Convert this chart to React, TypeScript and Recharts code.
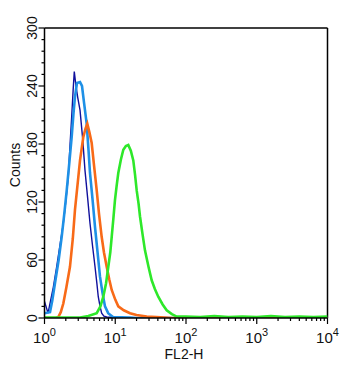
import { Label, Line, LineChart, ReferenceLine, XAxis, YAxis } from "recharts";

// histogram outlines: [log10(FL2-H), counts]
const navy: number[][] = [
  [0, 17], [0.05, 5], [0.078, 15], [0.125, 32], [0.172, 53], [0.22, 76], [0.266, 98],
  [0.3, 120], [0.336, 146], [0.36, 178], [0.384, 208], [0.405, 236], [0.421, 255],
  [0.445, 240], [0.47, 228], [0.502, 215], [0.54, 185], [0.572, 153], [0.61, 124],
  [0.643, 98], [0.68, 74], [0.714, 53], [0.74, 36], [0.76, 22], [0.785, 12], [0.808, 5],
  [0.84, 2], [0.879, 1], [1.07, 0], [4, 0],
];
const lightBlue: number[][] = [
  [0, 5], [0.078, 6], [0.11, 18], [0.148, 36], [0.2, 60], [0.243, 84], [0.28, 108],
  [0.314, 132], [0.35, 160], [0.384, 187], [0.41, 212], [0.431, 229], [0.459, 243],
  [0.502, 244], [0.53, 240], [0.56, 222], [0.596, 201], [0.62, 176], [0.643, 150],
  [0.68, 122], [0.714, 94], [0.75, 68], [0.784, 43], [0.82, 26], [0.855, 12], [0.9, 5],
  [0.968, 1], [1.21, 0.5], [1.3, 0], [4, 0],
];
const orange: number[][] = [
  [0, 0], [0.16, 0], [0.195, 1], [0.23, 6], [0.266, 15], [0.31, 32], [0.36, 53],
  [0.4, 82], [0.431, 112], [0.47, 140], [0.502, 163], [0.548, 187], [0.58, 196],
  [0.605, 201], [0.635, 192], [0.667, 181], [0.7, 158], [0.738, 132], [0.77, 108],
  [0.808, 84], [0.84, 68], [0.879, 53], [0.915, 40], [0.95, 29], [1.0, 19], [1.043, 12],
  [1.12, 8], [1.209, 5], [1.3, 3], [1.445, 1.5], [1.58, 1], [1.7, 0.5], [1.8, 0], [4, 0],
];
const green: number[][] = [
  [0, 0.5], [0.3, 0.5], [0.502, 0.5], [0.62, 2], [0.738, 5], [0.79, 12], [0.831, 22],
  [0.87, 36], [0.902, 53], [0.93, 68], [0.95, 84], [0.975, 104], [0.996, 122],
  [1.02, 137], [1.043, 150], [1.08, 164], [1.114, 174], [1.15, 178], [1.184, 179],
  [1.22, 173], [1.255, 163], [1.28, 148], [1.303, 132], [1.33, 118], [1.35, 105],
  [1.385, 87], [1.42, 70], [1.47, 53], [1.515, 39], [1.56, 30], [1.608, 22], [1.67, 14],
  [1.727, 8], [1.8, 4], [1.869, 1.5], [2.0, 1.5], [2.2, 1], [2.4, 2], [2.6, 1],
  [2.8, 1.5], [3.0, 1], [3.2, 2], [3.4, 1], [3.6, 1.5], [3.8, 1], [4, 1.5],
];

const xMajor = [0, 1, 2, 3, 4];
const xTicks: number[] = [];
xMajor.slice(0, 4).forEach((d) => {
  xTicks.push(d);
  [2, 3, 4, 5, 6, 7, 8, 9].forEach((k) => xTicks.push(d + Math.log10(k)));
});
xTicks.push(4);

const yTicks = Array.from({ length: 26 }, (_, i) => i * 12);

const font = "'Liberation Sans', Arial, sans-serif";

const toRows = (pts: number[][]) => pts.map(([x, c]) => ({ x, c }));

function XTick({ x, y, payload }: any) {
  const v = payload.value;
  const major = Math.abs(v - Math.round(v)) < 1e-6;
  return (
    <g>
      <line x1={x} x2={x} y1={y} y2={y + (major ? 6 : 3)} stroke="#000" strokeWidth={1.2} />
      {major && (
        <text x={x} y={y + 25} textAnchor="middle" fontSize={15} fontFamily={font} fill="#111">
          10
          <tspan dy={-7} fontSize={11}>
            {Math.round(v)}
          </tspan>
        </text>
      )}
    </g>
  );
}

function YTick({ x, y, payload }: any) {
  const v = payload.value;
  const major = v % 60 === 0;
  return (
    <g>
      <line x1={x} x2={x - (major ? 6 : 3)} y1={y} y2={y} stroke="#000" strokeWidth={1.2} />
      {major && (
        <text
          transform={`translate(${x - 8},${y}) rotate(-90)`}
          textAnchor="middle"
          fontSize={14}
          fontFamily={font}
          fill="#111"
        >
          {v}
        </text>
      )}
    </g>
  );
}

export default function App() {
  return (
    <div style={{ width: 333, height: 358 }}>
      <LineChart width={333} height={358} margin={{ top: 20, right: 13.5, bottom: 6, left: 6.5 }}>
        <XAxis
          type="number"
          dataKey="x"
          domain={[0, 4]}
          ticks={xTicks}
          interval={0}
          tick={<XTick />}
          tickLine={false}
          tickSize={0}
          tickMargin={0}
          height={42}
          axisLine={{ stroke: "#000", strokeWidth: 1.5 }}
          allowDataOverflow
        >
          <Label
            content={({ viewBox }: any) => (
              <text
                x={viewBox.x + viewBox.width / 2 - 2}
                y={viewBox.y + 41}
                textAnchor="middle"
                fontSize={14}
                fontFamily={font}
                fill="#111"
              >
                FL2-H
              </text>
            )}
          />
        </XAxis>
        <YAxis
          type="number"
          dataKey="c"
          domain={[0, 300]}
          ticks={yTicks}
          interval={0}
          tick={<YTick />}
          tickLine={false}
          tickSize={0}
          tickMargin={0}
          width={30}
          axisLine={{ stroke: "#000", strokeWidth: 1.5 }}
          allowDataOverflow
        >
          <Label
            content={({ viewBox }: any) => (
              <text
                transform={`translate(${viewBox.x + 5},${viewBox.y + 137}) rotate(-90)`}
                textAnchor="middle"
                fontSize={14}
                fontFamily={font}
                fill="#111"
              >
                Counts
              </text>
            )}
          />
        </YAxis>
        <ReferenceLine y={300} stroke="#000" strokeWidth={1.5} />
        <ReferenceLine x={4} stroke="#000" strokeWidth={1.5} />
        <Line data={toRows(navy)} dataKey="c" type="linear" stroke="#10109c" strokeWidth={1.4} dot={false} isAnimationActive={false} />
        <Line data={toRows(lightBlue)} dataKey="c" type="linear" stroke="#1e90e6" strokeWidth={2.6} dot={false} isAnimationActive={false} />
        <Line data={toRows(orange)} dataKey="c" type="linear" stroke="#f86a18" strokeWidth={2.6} dot={false} isAnimationActive={false} />
        <Line data={toRows(green)} dataKey="c" type="linear" stroke="#2ee82a" strokeWidth={2.6} dot={false} isAnimationActive={false} />
      </LineChart>
    </div>
  );
}
